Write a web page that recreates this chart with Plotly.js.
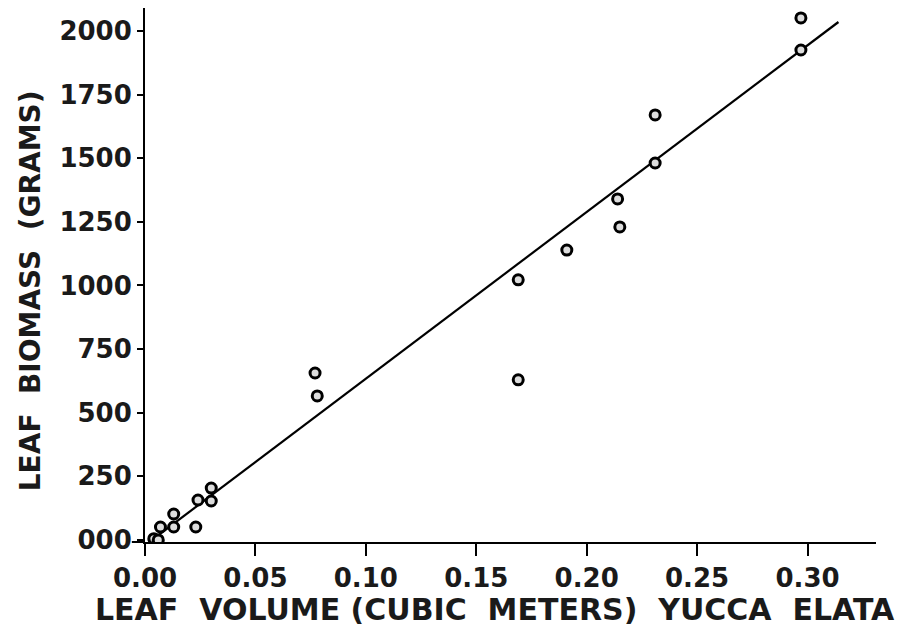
<!DOCTYPE html>
<html>
<head>
<meta charset="utf-8">
<script src="https://cdn.plot.ly/plotly-3.0.1.min.js"></script>
<style>html,body{margin:0;padding:0;background:#fff;}#chart{width:897px;height:634px;}</style>
</head>
<body>
<div id="chart"></div>
<script>
// Observed points: leaf volume (m^3) vs leaf biomass (g)
const leafVolume = [0.004, 0.006, 0.007, 0.013, 0.013, 0.023, 0.024, 0.030, 0.030,
                    0.077, 0.078, 0.169, 0.169, 0.191, 0.214, 0.215, 0.231, 0.231, 0.297, 0.297];
const leafBiomass = [5, 0, 51, 51, 102, 51, 157, 153, 204,
                     656, 566, 1022, 629, 1139, 1340, 1230, 1670, 1481, 2051, 1925];
// Fitted regression line (endpoints as drawn)
const fitVolume = [0.002, 0.314];
const fitBiomass = [-8, 2035];
// Tick labels
const xTickVals = [0, 0.05, 0.10, 0.15, 0.20, 0.25, 0.30];
const xTickText = ["0.00", "0.05", "0.10", "0.15", "0.20", "0.25", "0.30"];
const yTickVals = [0, 250, 500, 750, 1000, 1250, 1500, 1750, 2000];
const yTickText = ["000", "250", "500", "750", "1000", "1250", "1500", "1750", "2000"];
const xTitle = "LEAF  VOLUME (CUBIC  METERS)  YUCCA  ELATA";
const yTitle = "LEAF  BIOMASS  (GRAMS)";

const font = "DejaVu Sans, sans-serif";
const ink = "#1a1a1a";
const traces = [
  {x: fitVolume, y: fitBiomass, mode: "lines", type: "scatter",
   line: {color: "#000", width: 2.2}, hoverinfo: "skip"},
  {x: leafVolume, y: leafBiomass, mode: "markers", type: "scatter",
   marker: {symbol: "circle", size: 10, color: "#ddd", line: {color: "#000", width: 3}}}
];
const layout = {
  width: 897, height: 634,
  margin: {l: 145, r: 21, t: 8, b: 92},
  paper_bgcolor: "#fff", plot_bgcolor: "#fff",
  showlegend: false,
  xaxis: {
    range: [0, 0.331], tickvals: xTickVals, ticktext: xTickText,
    showgrid: false, zeroline: false, showline: true, linecolor: "#000", linewidth: 2,
    ticks: "outside", ticklen: 12, tickwidth: 2, tickcolor: "#000",
    tickfont: {family: font, size: 26, color: ink, weight: "bold"}
  },
  yaxis: {
    range: [-8, 2090], tickvals: yTickVals, ticktext: yTickText,
    showgrid: false, zeroline: false, showline: true, linecolor: "#000", linewidth: 2,
    ticks: "outside", ticklen: 6, tickwidth: 2, tickcolor: "#000",
    tickfont: {family: font, size: 26, color: ink, weight: "bold"}
  },
  annotations: [
    {text: xTitle, xref: "paper", yref: "paper", x: 0.479, y: -0.127,
     xanchor: "center", yanchor: "middle", showarrow: false,
     font: {family: font, size: 30, color: ink, weight: "bold"}},
    {text: yTitle, xref: "paper", yref: "paper", x: -0.157, y: 0.47, textangle: -90,
     xanchor: "center", yanchor: "middle", showarrow: false,
     font: {family: font, size: 28, color: ink, weight: "bold"}}
  ],
  shapes: [
    {type: "line", xref: "x", yref: "paper", x0: 0, x1: 0, y0: 0, y1: -0.025,
     line: {color: "#000", width: 2}},
    {type: "line", xref: "paper", yref: "paper", x0: -0.018, x1: 0, y0: 0, y1: 0,
     line: {color: "#000", width: 2}}
  ]
};
Plotly.newPlot("chart", traces, layout, {displayModeBar: false, staticPlot: true});
</script>
</body>
</html>
